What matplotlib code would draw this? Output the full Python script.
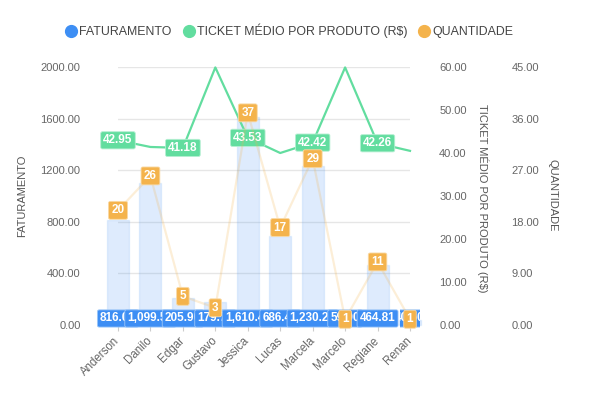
import matplotlib
matplotlib.use("Agg")
import matplotlib.pyplot as plt
from matplotlib.lines import Line2D
from matplotlib.colors import to_rgba
from matplotlib.transforms import Bbox, TransformedBbox, blended_transform_factory
import numpy as np

# === DATA ===
vendedores = ["Anderson", "Danilo", "Edgar", "Gustavo", "Jessica",
              "Lucas", "Marcela", "Marcelo", "Regiane", "Renan"]
faturamento = [816.05, 1099.50, 205.90, 179.70, 1610.45,
               686.40, 1230.20, 59.90, 464.81, 40.50]
ticket = [42.95, 41.40, 41.18, 59.90, 43.53, 40.00, 42.42, 59.90, 42.26, 40.50]
quantidade = [20, 26, 5, 3, 37, 17, 29, 1, 11, 1]

# === STYLE ===
BLUE = "#3d8ef4"
GREEN = "#62dd9f"
ORANGE = "#f4b34c"
GRID = "#e6e6e6"
TXT = "#666666"
plt.rcParams["font.family"] = ["Liberation Sans", "DejaVu Sans"]

W, H = 599, 397
fig = plt.figure(figsize=(W / 100, H / 100), dpi=100)
ax = fig.add_axes([118 / W, 72 / H, 292 / W, 258 / H])
ax2 = ax.twinx()
ax3 = ax.twinx()

x = np.arange(len(vendedores))

for a in (ax, ax2, ax3):
    for s in a.spines.values():
        s.set_visible(False)
    a.set_xlim(0, len(vendedores) - 1)

# faturamento bars
ax.set_ylim(0, 2000)
ax.set_yticks(np.arange(0, 2001, 400))
ax.yaxis.set_major_formatter(lambda v, p: f"{v:.2f}")
ax.grid(axis="y", color=GRID, linewidth=1)
ax.set_axisbelow(True)
ax.bar(x, faturamento, width=0.68, color=to_rgba(BLUE, 0.17),
       edgecolor=to_rgba(BLUE, 0.12), linewidth=1.0, clip_on=False, zorder=2)
ax.tick_params(axis="y", length=0, pad=27, labelsize=8, labelcolor=TXT)
ax.set_xticks(x)
ax.set_xticklabels(vendedores, rotation=45, ha="right", va="center",
                   rotation_mode="anchor", fontsize=8.3, color=TXT)
ax.tick_params(axis="x", length=4, color="#cccccc", pad=6)

# bar value labels (later ones cover earlier ones, like the original)
for i, v in enumerate(faturamento):
    t = ax.annotate(f"{v:,.2f}", (i, 0), xytext=(0, 4.7), textcoords="offset points",
                    ha="center", va="center", fontsize=8.5, fontweight="bold",
                    color="white", zorder=5 + i * 0.01, annotation_clip=False,
                    bbox=dict(boxstyle="round,pad=0.22,rounding_size=0.15",
                              fc=BLUE, ec="#9cc6f8", lw=0.6))
    if i == len(faturamento) - 1:
        tr = blended_transform_factory(ax.transData, ax.transAxes)
        t.set_clip_box(TransformedBbox(Bbox([[i - 0.3, -0.2], [i + 0.32, 0.2]]), tr))
        t.set_clip_on(True)

# ticket line
ax2.set_ylim(0, 60)
ax2.set_yticks(np.arange(0, 61, 10))
ax2.yaxis.set_major_formatter(lambda v, p: f"{v:.2f}")
ax2.tick_params(axis="y", length=0, pad=21, labelsize=8, labelcolor=TXT)
ax2.plot(x, ticket, color=GREEN, linewidth=1.6, zorder=3, clip_on=False)
for i, v in enumerate(ticket):
    if i % 2 == 0:
        ax2.annotate(f"{v:.2f}", (i, v), ha="center", va="center",
                     fontsize=8.5, fontweight="bold", color="white", zorder=6,
                     annotation_clip=False,
                     bbox=dict(boxstyle="round,pad=0.22,rounding_size=0.15",
                               fc=GREEN, ec="#b5efd2", lw=0.6))

# quantidade line
ax3.set_ylim(0, 45)
ax3.set_yticks(np.arange(0, 46, 9))
ax3.yaxis.set_major_formatter(lambda v, p: f"{v:.2f}")
ax3.tick_params(axis="y", length=0, pad=73, labelsize=8, labelcolor=TXT)
ax3.plot(x, quantidade, color=ORANGE, alpha=0.22, linewidth=1.6, zorder=3, clip_on=False)
for i, v in enumerate(quantidade):
    ax3.annotate(f"{v}", (i, v), ha="center", va="center",
                 fontsize=8.5, fontweight="bold", color="white", zorder=7,
                 annotation_clip=False,
                 bbox=dict(boxstyle="round,pad=0.25,rounding_size=0.15",
                           fc=ORANGE, ec="#f9d9a5", lw=0.6))

# axis titles
fig.text(22 / W, 1 - 196 / H, "FATURAMENTO", rotation=90, ha="center", va="center",
         fontsize=8, color="#555555")
fig.text(483 / W, 1 - 198 / H, "TICKET MÉDIO POR PRODUTO (R$)", rotation=-90,
         ha="center", va="center", fontsize=8, color="#555555")
fig.text(553 / W, 1 - 195 / H, "QUANTIDADE", rotation=-90, ha="center", va="center",
         fontsize=8, color="#555555")

# legend
handles = [Line2D([], [], marker="o", linestyle="", markersize=8.5, color=c)
           for c in (BLUE, GREEN, ORANGE)]
labels = ["FATURAMENTO", "TICKET MÉDIO POR PRODUTO (R$)", "QUANTIDADE"]
fig.legend(handles, labels, loc="center", bbox_to_anchor=(289 / W, 1 - 31 / H),
           ncol=3, frameon=False, fontsize=8.9, handletextpad=0.15,
           columnspacing=0.9, handlelength=1.0, labelcolor="#444444")

fig.savefig("out.png", dpi=100)
